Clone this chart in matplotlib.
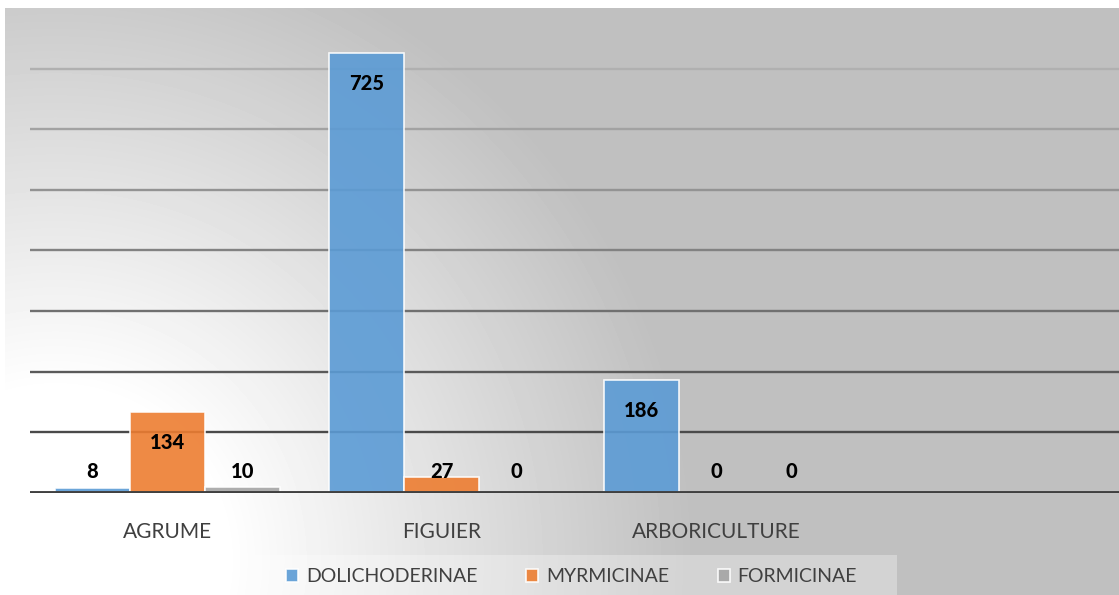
import numpy as np
import matplotlib
matplotlib.use("Agg")
import matplotlib.pyplot as plt
from matplotlib.patches import Rectangle

plt.rcParams["font.family"] = ["Lato", "DejaVu Sans"]

# data
categories = ["AGRUME", "FIGUIER", "ARBORICULTURE"]
series_names = ["DOLICHODERINAE", "MYRMICINAE", "FORMICINAE"]
dolichoderinae = [8, 725, 186]
myrmicinae = [134, 27, 0]
formicinae = [10, 0, 0]
series_colors = ["#5B9BD5", "#ED7D31", "#A5A5A5"]

W, H = 1119, 595
fig = plt.figure(figsize=(W / 100, H / 100), dpi=100)

# radial grey background, white towards the lower left
yy, xx = np.mgrid[0:H, 0:W]
r = np.hypot(xx - 55, yy - 560)
shade = np.clip(255 - 0.135 * (r - 170), 192, 255)
shade[:8, :] = 255
shade[:, :5] = 255
bg = fig.add_axes([0, 0, 1, 1], zorder=-10)
bg.imshow(shade, cmap="gray", vmin=0, vmax=255, extent=(0, W, H, 0),
          aspect="auto", interpolation="bilinear")
bg.add_patch(Rectangle((240, 555), 657, 45, facecolor="white", alpha=0.3,
                       edgecolor="none"))
bg.set_xlim(0, W)
bg.set_ylim(H, 0)
bg.axis("off")

# main axes
ax = fig.add_axes([30 / W, (H - 493) / H, 1 - 30 / W, 485 / H])
ax.set_facecolor("none")
slot_px = 274.5
ax.set_xlim(-0.5, -0.5 + (W - 30) / slot_px)
ax.set_ylim(0, 800)

# gridlines get lighter towards the top
grid_grays = ["#4a4a4a", "#5a5a5a", "#707070", "#828282", "#939393", "#a2a2a2", "#b0b0b0"]
for lvl, c in zip(range(100, 800, 100), grid_grays):
    ax.axhline(lvl, color=c, lw=1.7, zorder=1)
ax.axhline(0, color="#404040", lw=2.8, zorder=4)

x = np.arange(len(categories))
width = 75 / slot_px
handles = []
for i, (vals, name, col) in enumerate(zip([dolichoderinae, myrmicinae, formicinae],
                                          series_names, series_colors)):
    pos = x + (i - 1) * width
    bars = ax.bar(pos, vals, width, color=col, alpha=0.9, edgecolor="white",
                  linewidth=1.2, label=name, zorder=3)
    handles.append(bars)
    for xi, v in zip(pos, vals):
        ax.text(xi, max(v - 50, 36), str(v), ha="center", va="center",
                fontsize=14.5, fontweight="black", color="black", zorder=5)

ax.set_xticks(x, categories)
ax.tick_params(axis="x", length=0, pad=21, labelsize=15, labelcolor="#404040")
ax.set_yticks([])
for s in ax.spines.values():
    s.set_visible(False)

fig.legend(handles, series_names, loc="center",
           bbox_to_anchor=(571.5 / W, 1 - 577 / H), ncol=3, frameon=False,
           fontsize=14, handlelength=0.62, handleheight=0.62,
           handletextpad=0.4, columnspacing=2.5, labelcolor="#404040")

fig.savefig("out.png", dpi=100)
